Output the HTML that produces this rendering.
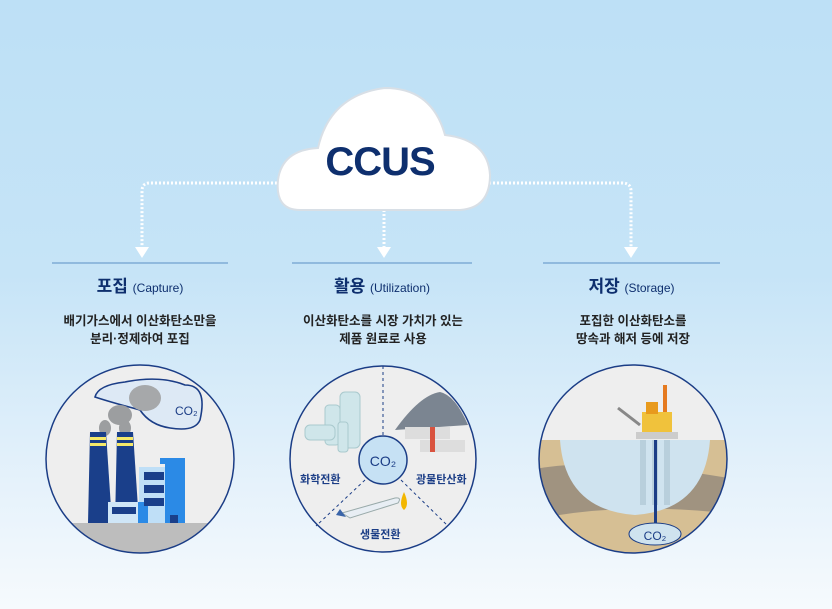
<!DOCTYPE html>
<html><head><meta charset="utf-8">
<style>
body{margin:0;width:832px;height:609px;overflow:hidden;background:linear-gradient(#bde0f6 0%,#c6e4f7 45%,#e6f2fb 80%,#f6fafd 100%);font-family:"Liberation Sans","Noto Sans CJK KR",sans-serif;position:relative}
.t{position:absolute;text-align:center;color:#0e2f6e}
.h{font-size:17px;font-weight:bold}
.h span{font-size:12px;font-weight:normal}
.d{font-size:12.5px;line-height:18px;color:#222;font-weight:bold}
</style></head><body>
<svg width="832" height="609" style="position:absolute;left:0;top:0">
<g stroke="#fff" stroke-width="3" stroke-dasharray="2 2" fill="none">
<path d="M285 183 H150 Q142 183 142 191 V248"/>
<path d="M384 210 V248"/>
<path d="M485 183 H622 Q631 183 631 191 V248"/>
</g>
<g fill="#fff"><path d="M135 247 l7 11 l7 -11z"/><path d="M377 247 l7 11 l7 -11z"/><path d="M624 247 l7 11 l7 -11z"/></g>
<path d="M300 210 Q275 210 278 180 Q282 150 318 148 Q330 95 385 88 Q432 88 445 135 Q488 140 490 175 Q490 208 460 210 Z" fill="#fff" stroke="#d8dfe6" stroke-width="2"/>
<text x="380" y="175" font-family="Liberation Sans,sans-serif" font-size="40" fill="#0e2f6e" text-anchor="middle" font-weight="bold" letter-spacing="-1">CCUS</text>
<g stroke="#5b8fc4" stroke-width="1"><line x1="52" y1="263" x2="228" y2="263"/><line x1="292" y1="263" x2="472" y2="263"/><line x1="543" y1="263" x2="720" y2="263"/></g>
<!-- left circle -->
<defs><clipPath id="c1"><circle cx="140" cy="459" r="94"/></clipPath><clipPath id="c3"><circle cx="633" cy="459" r="94"/></clipPath></defs>
<circle cx="140" cy="459" r="94" fill="#eeeeee"/>
<g clip-path="url(#c1)">
<rect x="40" y="523" width="200" height="50" fill="#bdbdbd"/>
<path d="M95 397 Q98 385 125 382 Q160 375 185 385 Q208 385 200 420 Q195 432 170 428 Q150 425 140 410 Q110 402 95 397Z" fill="#dde9f5" stroke="#1b3d86" stroke-width="1.6"/>
<ellipse cx="145" cy="398" rx="16" ry="13" fill="#a6a8aa"/><ellipse cx="120" cy="415" rx="12" ry="10" fill="#9c9ea0"/><ellipse cx="105" cy="428" rx="6" ry="8" fill="#9c9ea0"/><ellipse cx="125" cy="428" rx="6" ry="8" fill="#9c9ea0"/>
<text x="175" y="415" font-size="12" fill="#1b3d86">CO₂</text>
<path d="M90 432 H106 L112 523 H88Z" fill="#1a3f8a"/><path d="M117 432 H133 L139 523 H115Z" fill="#1a3f8a"/>
<rect x="90" y="437" width="16" height="3" fill="#f5e96a"/><rect x="90" y="443" width="16" height="3" fill="#f5e96a"/>
<rect x="117" y="437" width="16" height="3" fill="#f5e96a"/><rect x="117" y="443" width="16" height="3" fill="#f5e96a"/>
<rect x="139" y="467" width="36" height="56" fill="#bfdff7"/><rect x="165" y="458" width="20" height="65" fill="#2b8ae6"/><rect x="160" y="458" width="12" height="6" fill="#2b8ae6"/>
<rect x="108" y="502" width="34" height="21" fill="#cfe6f7"/><rect x="138" y="502" width="10" height="21" fill="#2b8ae6"/>
<g fill="#1a3f8a"><rect x="144" y="472" width="20" height="8"/><rect x="144" y="485" width="20" height="8"/><rect x="144" y="498" width="20" height="8"/><rect x="112" y="507" width="24" height="7"/><rect x="170" y="515" width="8" height="8"/></g>
</g>
<circle cx="140" cy="459" r="94" fill="none" stroke="#1b3d86" stroke-width="1.5"/>
<!-- middle circle -->
<circle cx="383" cy="459" r="93" fill="#eeeeee" stroke="#1b3d86" stroke-width="1.5"/>
<g stroke="#1b3d86" stroke-width="1" stroke-dasharray="3 3"><line x1="383" y1="366" x2="383" y2="438"/><line x1="365" y1="480" x2="316" y2="526"/><line x1="401" y1="480" x2="448" y2="526"/></g>
<g fill="#cfe6ea" stroke="#a9c9cd"><rect x="340" y="392" width="20" height="56" rx="5"/><rect x="325" y="405" width="15" height="40" rx="4"/><rect x="305" y="425" width="30" height="15" rx="5"/><rect x="338" y="422" width="10" height="30" rx="3"/></g>
<path d="M395 430 Q420 395 440 392 Q455 395 468 425Z" fill="#7b8591"/>
<g><rect x="405" y="427" width="45" height="12" fill="#ddd"/><rect x="420" y="440" width="45" height="12" fill="#ddd"/><rect x="430" y="427" width="5" height="25" fill="#d9533f"/></g>
<circle cx="383" cy="460" r="24" fill="#c6e1f4" stroke="#1b3d86" stroke-width="1.5"/>
<text x="383" y="466" font-size="14" fill="#1b3d86" text-anchor="middle">CO₂</text>
<path d="M342 513 L395 498 Q402 497 398 503 L350 518Z" fill="#e8eef4" stroke="#9aa"/><path d="M340 509 l6 8 l-10 -2z" fill="#3a64a8"/>
<path d="M404 492 Q398 505 404 510 Q410 505 404 492Z" fill="#f2b600"/>
</svg>
<div class="t h" style="left:52px;width:176px;top:272px">포집 <span>(Capture)</span></div>
<div class="t h" style="left:292px;width:180px;top:272px">활용 <span>(Utilization)</span></div>
<div class="t h" style="left:543px;width:177px;top:272px">저장 <span>(Storage)</span></div>
<div class="t d" style="left:40px;width:200px;top:312px">배기가스에서 이산화탄소만을<br>분리·정제하여 포집</div>
<div class="t d" style="left:280px;width:206px;top:312px">이산화탄소를 시장 가치가 있는<br>제품 원료로 사용</div>
<div class="t d" style="left:533px;width:200px;top:312px">포집한 이산화탄소를<br>땅속과 해저 등에 저장</div>
<div class="t" style="left:300px;top:471px;font-size:11px;font-weight:bold;color:#1b3d86">화학전환</div>
<div class="t" style="left:416px;top:471px;font-size:11px;font-weight:bold;color:#1b3d86">광물탄산화</div>
<div class="t" style="left:360px;top:526px;font-size:11px;font-weight:bold;color:#1b3d86">생물전환</div>
<svg width="832" height="609" style="position:absolute;left:0;top:0">
<circle cx="633" cy="459" r="94" fill="#eeeeee"/>
<g clip-path="url(#c3)">
<rect x="530" y="440" width="210" height="130" fill="#d6bf94"/>
<path d="M530 470 Q600 455 740 480 V560 H530Z" fill="#a09380"/>
<path d="M530 520 Q630 500 740 515 V560 H530Z" fill="#d6bf94"/>
<path d="M560 440 H710 Q705 510 635 515 Q565 510 560 440Z" fill="#cfe3ef"/>
<g fill="#b8cfdc"><rect x="640" y="440" width="6" height="65"/><rect x="652" y="440" width="6" height="65"/><rect x="664" y="440" width="6" height="65"/></g>
<rect x="654" y="440" width="3" height="100" fill="#1b3d86"/>
<ellipse cx="655" cy="534" rx="26" ry="11" fill="#cfe3ef" stroke="#1b3d86"/>
<text x="655" y="540" font-size="12" fill="#1b3d86" text-anchor="middle">CO₂</text>
<rect x="636" y="432" width="42" height="7" fill="#ccc"/>
<rect x="642" y="412" width="30" height="20" fill="#f0c23c"/><rect x="646" y="402" width="12" height="12" fill="#e89a1d"/>
<rect x="663" y="385" width="4" height="27" fill="#e57a1f"/>
<path d="M618 408 L640 425" stroke="#888" stroke-width="3"/>
</g>
<circle cx="633" cy="459" r="94" fill="none" stroke="#1b3d86" stroke-width="1.5"/>
</svg>
</body></html>
